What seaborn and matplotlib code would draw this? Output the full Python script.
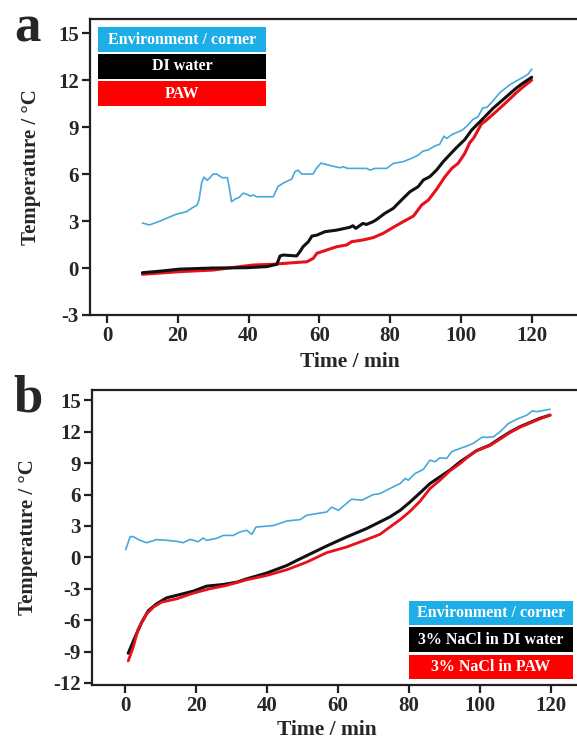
import matplotlib
matplotlib.use("Agg")
import matplotlib.pyplot as plt
import seaborn as sns
import pandas as pd
from matplotlib.patches import Rectangle

# ---------------- Panel a data ----------------
env_a_t = [10, 12, 15, 17.8, 19.7, 22.5, 24, 25.4, 26, 26.8, 27.4, 28.3, 29, 30, 31, 32.5, 34, 34.5, 35.2,
           36.2, 37.3, 38.5, 39.4, 40.4, 41.3, 42.3, 47, 48.3, 49.8, 51, 52.2, 53.1, 54, 55, 58.2, 59.2,
           60.5, 61.6, 63.9, 65.8, 66.7, 68, 73.4, 74.3, 75.7, 79, 80.9, 83.7, 86, 87.9, 89.3, 90.7, 92.7,
           94, 95.2, 96, 97.5, 98.9, 100.3, 101.7, 103.4, 104.8, 106.2, 107.3, 108.8, 111, 113.8, 115.8,
           117.5, 119, 120]
env_a_v = [2.87, 2.75, 3.0, 3.27, 3.44, 3.6, 3.83, 4.0, 4.34, 5.5, 5.8, 5.6, 5.74, 6.0, 6.0, 5.77, 5.77, 5.2,
           4.23, 4.4, 4.5, 4.78, 4.72, 4.6, 4.66, 4.55, 4.55, 5.2, 5.42, 5.55, 5.68, 6.15, 6.25, 6.0, 6.0,
           6.38, 6.7, 6.63, 6.5, 6.4, 6.47, 6.36, 6.36, 6.25, 6.36, 6.36, 6.68, 6.79, 7.0, 7.2, 7.47, 7.53,
           7.8, 7.9, 8.42, 8.27, 8.53, 8.66, 8.8, 9.06, 9.49, 9.65, 10.23, 10.25, 10.6, 11.2, 11.7, 11.96,
           12.17, 12.38, 12.7]

di_a_t = [10, 15, 20.6, 30, 39.5, 45.2, 48, 48.9, 49.8, 53.6, 54.5, 55.4, 56.9, 57.9, 59.3, 61.6, 64.9,
          68.6, 69.5, 70.3, 72.3, 73.3, 75.2, 76.2, 78.5, 80.9, 83.2, 85.6, 87.9, 89.4, 91.2, 93.1, 95,
          96.9, 98.8, 101.1, 103, 106.3, 109.1, 112.9, 115.7, 117.5, 120]
di_a_v = [-0.3, -0.2, -0.07, 0.0, 0.02, 0.09, 0.24, 0.77, 0.83, 0.77, 1.04, 1.36, 1.68, 2.04, 2.1, 2.32,
          2.42, 2.6, 2.7, 2.53, 2.85, 2.78, 2.96, 3.1, 3.49, 3.81, 4.34, 4.87, 5.19, 5.62, 5.83, 6.25,
          6.79, 7.25, 7.7, 8.2, 8.8, 9.55, 10.2, 10.95, 11.5, 11.8, 12.18]

paw_a_t = [10, 15, 20.6, 30, 37.6, 41.3, 47, 52.6, 56.5, 58.3, 59.3, 62.1, 64.9, 67.7, 69.1, 72.3, 75.2,
           78, 80.9, 83.7, 86.6, 88.9, 90.8, 93.1, 95.5, 97.4, 99.2, 101.1, 102.5, 103.6, 105.8, 107,
           110, 112.9, 115.7, 117.5, 120]
paw_a_v = [-0.4, -0.32, -0.23, -0.13, 0.09, 0.19, 0.24, 0.34, 0.4, 0.62, 0.94, 1.15, 1.36, 1.47, 1.68,
           1.79, 1.94, 2.21, 2.6, 2.96, 3.32, 4.02, 4.34, 5.02, 5.83, 6.36, 6.68, 7.32, 8.0, 8.3, 9.2,
           9.4, 10.0, 10.6, 11.2, 11.55, 12.0]

# ---------------- Panel b data ----------------
env_b_t = [0.2, 1.4, 2.2, 4.2, 6.1, 8.9, 11.7, 14.6, 16.4, 18.3, 20.6, 22, 23, 25.8, 27.7, 30.5, 32.4,
           34.3, 35.7, 36.9, 41.8, 45.6, 49.3, 51.2, 56.8, 58.2, 60.1, 63.8, 66.7, 69.9, 71.8, 74.6, 77.5,
           78.9, 79.8, 81.7, 84, 85.9, 87.3, 88.7, 90.6, 92, 94.4, 95.8, 98.1, 100.5, 101.9, 103.8, 105.6,
           108, 110.3, 113.2, 114.7, 116, 119.7]
env_b_v = [0.74, 1.95, 2.0, 1.63, 1.4, 1.7, 1.63, 1.53, 1.4, 1.72, 1.5, 1.85, 1.63, 1.82, 2.1, 2.1, 2.43,
           2.59, 2.2, 2.9, 3.04, 3.48, 3.61, 4.03, 4.34, 4.8, 4.5, 5.56, 5.46, 6.0, 6.1, 6.58, 7.06, 7.54,
           7.38, 8.02, 8.4, 9.3, 9.14, 9.52, 9.46, 10.1, 10.42, 10.58, 10.9, 11.48, 11.48, 11.53, 12.0,
           12.8, 13.2, 13.6, 14.0, 13.93, 14.16]

di_b_t = [0.9, 2.8, 4.7, 6.6, 8.9, 11.7, 15.5, 19.2, 23, 27.7, 31.5, 34.3, 39.9, 45.6, 48.4, 56.8, 62.4,
          68, 71.8, 74.6, 77.5, 80.3, 83.1, 85.9, 88.7, 91.5, 94.4, 97.2, 99, 102.8, 105.6, 108.5, 111.3,
          114.1, 116.9, 119.7]
di_b_v = [-9.17, -7.64, -6.2, -5.08, -4.44, -3.87, -3.55, -3.23, -2.75, -2.59, -2.37, -2.05, -1.5, -0.77,
          -0.29, 1.09, 1.95, 2.75, 3.39, 3.87, 4.5, 5.3, 6.17, 7.06, 7.7, 8.34, 9.14, 9.78, 10.2, 10.74,
          11.38, 12.0, 12.5, 12.9, 13.3, 13.6]

paw_b_t = [0.9, 2.3, 3.7, 6.1, 8, 10.3, 14.6, 19.2, 23.9, 28.6, 34.3, 39.9, 45.6, 51.2, 56.8, 62.4, 68,
           71.8, 74.6, 77.5, 80.3, 83.1, 85.9, 88.7, 91.5, 94.4, 97.2, 99, 102.8, 105.6, 108.5, 111.3,
           114.1, 116.9, 119.7]
paw_b_v = [-9.9, -8.6, -6.84, -5.4, -4.76, -4.28, -3.96, -3.42, -3.0, -2.68, -2.14, -1.73, -1.18, -0.45,
           0.45, 0.99, 1.7, 2.2, 2.9, 3.61, 4.41, 5.37, 6.58, 7.38, 8.27, 8.98, 9.78, 10.2, 10.7, 11.3,
           11.95, 12.45, 12.85, 13.25, 13.6]

labels_a = ["Environment / corner", "DI water", "PAW"]
labels_b = ["Environment / corner", "3% NaCl in DI water", "3% NaCl in PAW"]
x_ticks = [0, 20, 40, 60, 80, 100, 120]
y_ticks_a = [-3, 0, 3, 6, 9, 12, 15]
y_ticks_b = [-12, -9, -6, -3, 0, 3, 6, 9, 12, 15]

# ---------------- style ----------------
sns.set_style("ticks")
plt.rcParams["font.family"] = ["Liberation Serif", "DejaVu Serif"]
plt.rcParams["font.weight"] = "bold"
plt.rcParams["axes.labelweight"] = "bold"
plt.rcParams["axes.unicode_minus"] = False

ENV_LINE = "#46A9DA"
ENV_BOX = "#1DAEE8"
RED = "#E8101A"
RED_BOX = "#FF0000"
BLACK = "#111111"
SPINE = "#231F20"

W, H = 577, 739
fig = plt.figure(figsize=(W / 100, H / 100), dpi=100)


def fx(px):
    return px / W


def fy(py):
    return 1 - py / H


ax1 = fig.add_axes([fx(90), fy(315), 1 - fx(90), fy(19) - fy(315)])
ax2 = fig.add_axes([fx(92), fy(685), 1 - fx(92), fy(390) - fy(685)])


def draw(ax, series):
    for t, v, c, lw in series:
        df = pd.DataFrame({"t": t, "v": v})
        sns.lineplot(data=df, x="t", y="v", ax=ax, color=c, lw=lw,
                     estimator=None, sort=False, legend=False)


draw(ax1, [(env_a_t, env_a_v, ENV_LINE, 1.2),
           (paw_a_t, paw_a_v, RED, 2.2),
           (di_a_t, di_a_v, BLACK, 2.2)])
draw(ax2, [(env_b_t, env_b_v, ENV_LINE, 1.2),
           (di_b_t, di_b_v, BLACK, 2.2),
           (paw_b_t, paw_b_v, RED, 2.0)])

ax1.set_xlim(-4.8, 132.8)
ax1.set_ylim(-3, 15.9)
ax2.set_xlim(-9.3, 127.3)
ax2.set_ylim(-12.2, 16.0)
ax1.set_yticks(y_ticks_a)
ax2.set_yticks(y_ticks_b)
for ax in (ax1, ax2):
    ax.set_xticks(x_ticks)
    ax.spines["right"].set_visible(False)
    for s in ("left", "bottom", "top"):
        ax.spines[s].set_linewidth(1.6)
        ax.spines[s].set_color(SPINE)
    ax.tick_params(direction="out", length=6, width=1.6, color=SPINE,
                   labelsize=15, pad=2)
    for lab in ax.get_xticklabels() + ax.get_yticklabels():
        lab.set_fontweight("bold")
    ax.set_xlabel("Time / min", fontsize=15.5, fontweight="bold")
    ax.set_ylabel("Temperature / \u00b0C", fontsize=15, fontweight="bold")

ax1.xaxis.set_label_coords((350 - 90) / 487, (315 - 352) / 296)
ax1.yaxis.set_label_coords(-0.10, 0.5)
ax2.xaxis.set_label_coords((327 - 92) / 485, (685 - 720) / 295)
ax2.yaxis.set_label_coords(-0.111, 0.5)

# panel letters
fig.text(fx(14), fy(42), "a", fontsize=38, fontweight="bold", ha="left", va="baseline")
fig.text(fx(13), fy(412), "b", fontsize=38, fontweight="bold", ha="left", va="baseline")


def legend_boxes(x0, x1, rows, labels):
    colors = [ENV_BOX, "#000000", RED_BOX]
    for (y0, y1), lab, c in zip(rows, labels, colors):
        fig.patches.append(Rectangle((fx(x0), fy(y1)), fx(x1) - fx(x0), fy(y0) - fy(y1),
                                     transform=fig.transFigure, facecolor=c, edgecolor="none"))
        fig.text((fx(x0) + fx(x1)) / 2, (fy(y0) + fy(y1)) / 2, lab, color="white",
                 fontsize=11.5, fontweight="bold", ha="center", va="center")


legend_boxes(98, 266, [(27, 52), (54, 79), (81, 106)], labels_a)
legend_boxes(409, 573, [(601, 625), (627, 652), (655, 679)], labels_b)

fig.savefig("out.png", dpi=100)
